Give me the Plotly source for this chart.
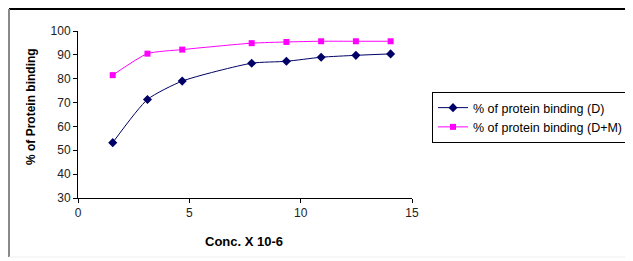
import plotly.graph_objects as go

conc = [1.56, 3.12, 4.68, 7.8, 9.36, 10.92, 12.48, 14.04]
binding_d = [53.2, 71.3, 79.0, 86.5, 87.3, 89.0, 89.8, 90.4]
binding_dm = [81.5, 90.5, 92.2, 94.9, 95.4, 95.7, 95.7, 95.7]
name_d = "% of protein binding (D)"
name_dm = "% of protein binding (D+M)"
x_ticks = [0, 5, 10, 15]
y_ticks = [30, 40, 50, 60, 70, 80, 90, 100]

OFF = 8  # page body margin
W, H = 633 - OFF, 261 - OFF
L, T = 78 - OFF, 31 - OFF
R = W - (412 - OFF)
B = H - (198 - OFF)
pw, ph = W - L - R, H - T - B

def px(x):
    return (x - OFF - L) / pw

def py(y):
    return (H - B - (y - OFF)) / ph

FAM = "Liberation Sans, Arial, sans-serif"

fig = go.Figure()
fig.add_trace(go.Scatter(
    x=conc, y=binding_d, name=name_d, mode="lines+markers",
    line=dict(color="#000066", width=1, shape="spline", smoothing=0.6),
    marker=dict(symbol="diamond", size=7, color="#000066"),
))
fig.add_trace(go.Scatter(
    x=conc, y=binding_dm, name=name_dm, mode="lines+markers",
    line=dict(color="#FF00FF", width=1, shape="spline", smoothing=0.6),
    marker=dict(symbol="square", size=6, color="#FF00FF"),
))

fig.update_layout(
    width=W, height=H,
    margin=dict(l=L, r=R, t=T, b=B, autoexpand=False),
    paper_bgcolor="white", plot_bgcolor="white",
    font=dict(family=FAM, size=12, color="black"),
    showlegend=True,
    legend=dict(
        x=px(432), y=py(92), xanchor="left", yanchor="top",
        bordercolor="black", borderwidth=1, bgcolor="white",
        font=dict(family=FAM, size=12.5, color="black"),
        tracegroupgap=0, itemwidth=30,
    ),
    xaxis=dict(
        range=[0, 15], tickvals=x_ticks, showgrid=False, zeroline=False,
        showline=True, linecolor="black", linewidth=1,
        ticks="outside", ticklen=4, tickcolor="black",
        tickfont=dict(family=FAM, size=12, color="#222222"),
    ),
    yaxis=dict(
        range=[30, 100], tickvals=y_ticks, showgrid=False, zeroline=False,
        showline=True, linecolor="black", linewidth=1,
        ticks="outside", ticklen=4, tickcolor="black",
        tickfont=dict(family=FAM, size=12, color="#222222"),
    ),
    annotations=[
        dict(text="<b>% of Protein binding</b>", x=px(31), y=py(107), xref="paper", yref="paper",
             xanchor="center", yanchor="middle",
             showarrow=False, textangle=-90, font=dict(family=FAM, size=12)),
        dict(text="<b>Conc. X 10-6</b>", x=px(244), y=py(241), xref="paper", yref="paper",
             xanchor="center", yanchor="middle",
             showarrow=False, font=dict(family=FAM, size=13)),
    ],
    shapes=[
        dict(type="line", xref="paper", yref="paper", x0=px(9), x1=px(640), y0=py(9), y1=py(9),
             line=dict(color="black", width=2)),
        dict(type="line", xref="paper", yref="paper", x0=px(9), x1=px(9), y0=py(9), y1=py(257),
             line=dict(color="#888888", width=2)),
        dict(type="line", xref="paper", yref="paper", x0=px(9), x1=px(640), y0=py(257), y1=py(257),
             line=dict(color="#eeeeee", width=1)),
    ],
)

fig.write_html("out.html")
